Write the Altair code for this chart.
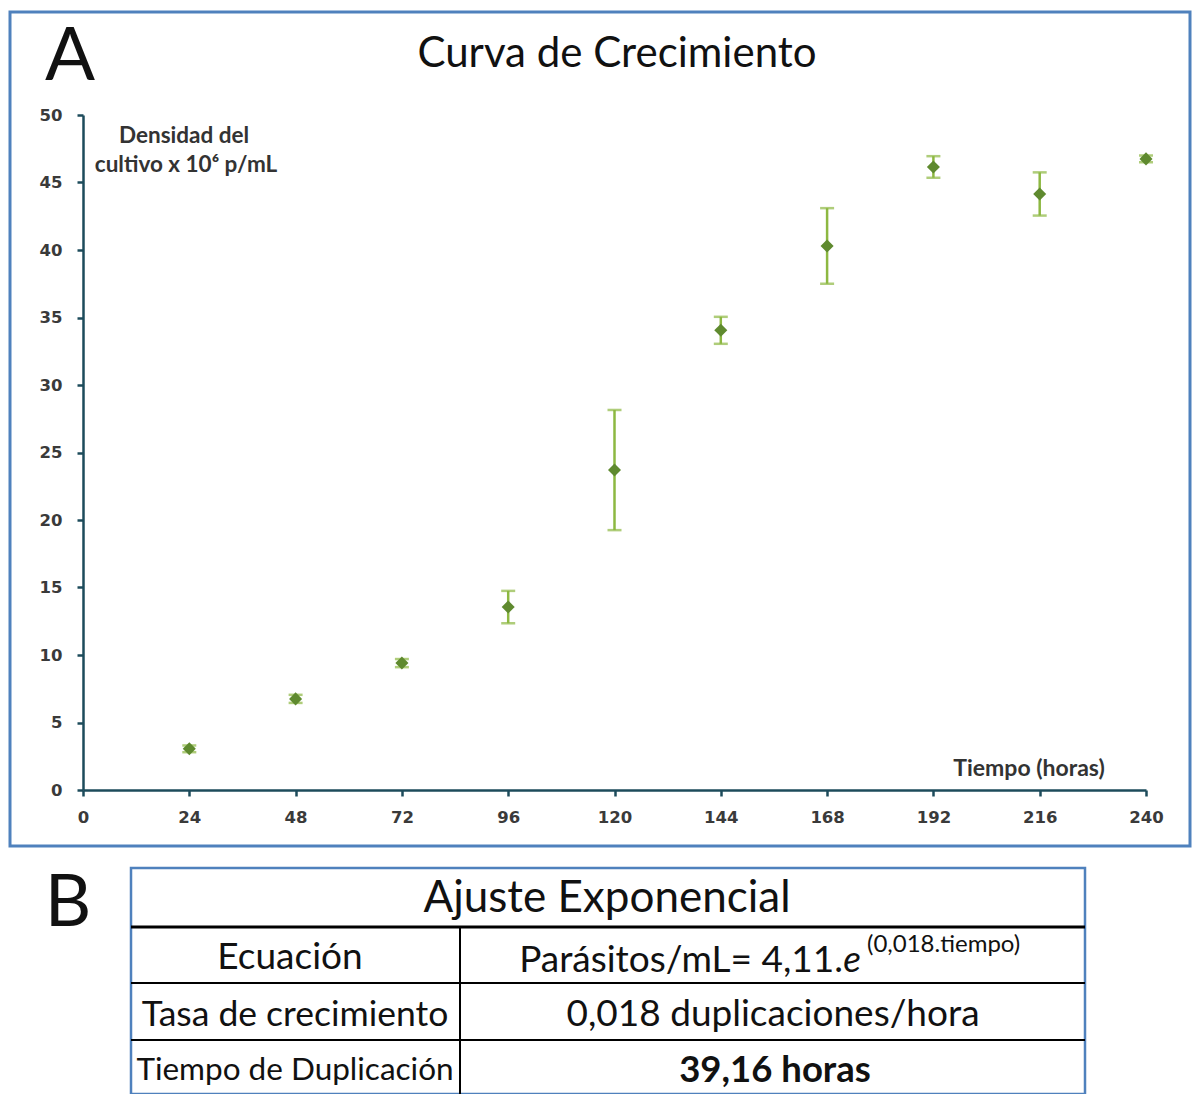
import altair as alt
import pandas as pd

# ---- data ----
tiempo = [24, 48, 72, 96, 120, 144, 168, 192, 216, 240]
densidad = [3.05, 6.75, 9.4, 13.55, 23.7, 34.05, 40.3, 46.15, 44.15, 46.75]
desvio = [0.25, 0.3, 0.3, 1.2, 4.45, 1.0, 2.8, 0.8, 1.6, 0.25]
x_ticks = [0, 24, 48, 72, 96, 120, 144, 168, 192, 216, 240]
y_ticks = [0, 5, 10, 15, 20, 25, 30, 35, 40, 45, 50]

df = pd.DataFrame({"t": tiempo, "d": densidad, "sd": desvio})
df["lo"] = df["d"] - df["sd"]
df["hi"] = df["d"] + df["sd"]

W, H = 1063, 675
OX, OY = 83, 115  # plot origin in page pixels (for annotation placement)
FONT = "Lato"
TICKFONT = "DejaVu Sans"
one = pd.DataFrame({"k": [0]})

def px(x):
    return x - OX

def py(y):
    return y - OY

axis_common = dict(title=None, grid=False, domainColor="#1d4b5b", domainWidth=2.5,
                   tickColor="#1d4b5b", tickWidth=2.5, tickSize=6, labelFont=TICKFONT,
                   labelFontSize=16.5, labelFontWeight="bold", labelColor="#3a3a3a",
                   labelFlush=False, labelOverlap=False)
xs = alt.X("t:Q", scale=alt.Scale(domain=[0, 240], nice=False),
           axis=alt.Axis(values=x_ticks, labelPadding=13, **axis_common))
ys = alt.Y("d:Q", scale=alt.Scale(domain=[0, 50], nice=False),
           axis=alt.Axis(values=y_ticks, labelPadding=15, **axis_common))

base = alt.Chart(df)
err = base.mark_rule(color="#8db842", strokeWidth=2.5).encode(
    x=xs, y=alt.Y("lo:Q", scale=alt.Scale(domain=[0, 50], nice=False)), y2="hi:Q")
cap_lo = base.mark_tick(color="#8db842", orient="horizontal", size=14, thickness=2.5).encode(
    x=alt.X("t:Q"), y=alt.Y("lo:Q"))
cap_hi = base.mark_tick(color="#8db842", orient="horizontal", size=14, thickness=2.5).encode(
    x=alt.X("t:Q"), y=alt.Y("hi:Q"))
pts = base.mark_point(shape="diamond", filled=True, color="#5f8a2f", size=170, opacity=1).encode(
    x=xs, y=ys)

def txt(s, x, y, size, weight="normal", align="center", style="normal", color="#111111",
        font=FONT, baseline="middle"):
    return alt.Chart(one).mark_text(text=s, fontSize=size, fontWeight=weight, align=align,
                                    baseline=baseline, fontStyle=style, color=color,
                                    font=font).encode(x=alt.value(px(x)), y=alt.value(py(y)))

def box(x1, y1, x2, y2, color, width):
    return alt.Chart(one).mark_rect(fillOpacity=0, stroke=color, strokeWidth=width).encode(
        x=alt.value(px(x1)), x2=alt.value(px(x2)), y=alt.value(py(y1)), y2=alt.value(py(y2)))

def line(x1, y1, x2, y2, color, width):
    return alt.Chart(one).mark_rule(color=color, strokeWidth=width).encode(
        x=alt.value(px(x1)), x2=alt.value(px(x2)), y=alt.value(py(y1)), y2=alt.value(py(y2)))

blue = "#4f81bd"
layers = [
    box(10, 12, 1190, 846, blue, 3),
    txt("A", 70, 58, 74),
    txt("Curva de Crecimiento", 617, 54, 42),
    txt("Densidad del", 184, 136, 22.5, weight="bold", color="#333333"),
    txt("cultivo x 10\u2076 p/mL", 186, 165, 22.5, weight="bold", color="#333333"),
    txt("Tiempo (horas)", 1029, 769, 23, weight="bold", color="#333333"),
    err, cap_lo, cap_hi, pts,
    txt("B", 68, 904, 72),
    box(131, 868, 1085, 1094, blue, 2.5),
    line(131, 927, 1085, 927, "#000000", 3),
    line(131, 983, 1085, 983, "#000000", 2),
    line(131, 1040, 1085, 1040, "#000000", 2),
    line(460, 927, 460, 1094, "#000000", 2),
    txt("Ajuste Exponencial", 607, 899, 44),
    txt("Ecuación", 290, 958, 37),
    txt("Parásitos/mL= 4,11.", 843, 961, 37, align="right"),
    txt("e", 852, 961, 37, style="italic"),
    txt("(0,018.tiempo)", 867, 945, 24, align="left"),
    txt("Tasa de crecimiento", 295, 1015, 35.5),
    txt("0,018 duplicaciones/hora", 773, 1015, 37),
    txt("Tiempo de Duplicación", 295, 1071, 31.5),
    txt("39,16 horas", 775, 1071, 36.5, weight="bold"),
]

chart = alt.layer(*layers).properties(
    width=W, height=H,
    autosize=alt.AutoSizeParams(type="none"),
    padding={"left": 75, "top": 107, "right": 46, "bottom": 304},
    background="white",
).configure_view(stroke=None)

chart.save("out.html", embed_options={"renderer": "svg", "actions": False})
